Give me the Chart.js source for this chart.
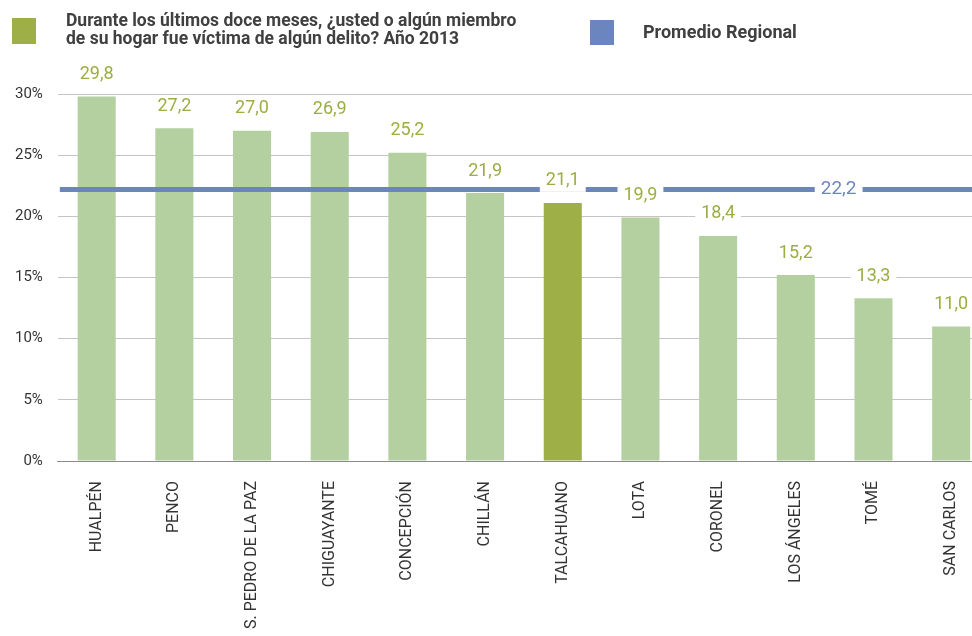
<!DOCTYPE html>
<html>
<head>
<meta charset="utf-8">
<script src="https://cdn.jsdelivr.net/npm/chart.js@4.4.0/dist/chart.umd.min.js"></script>
<style>
  html, body { margin: 0; padding: 0; background: #fff; overflow: hidden; width: 972px; height: 636px; }
  #wrap { position: absolute; left: 0; top: 0; width: 1000px; height: 649px; }
  .legend { position: absolute; font-family: Roboto, "Liberation Sans", sans-serif; font-weight: bold; color: #404040; }
  .sq { position: absolute; }
</style>
</head>
<body>
<div id="wrap"><canvas id="myChart" width="1000" height="649"></canvas></div>
<div class="sq" style="left:12px;top:18px;width:24px;height:26px;background:#9faf48"></div>
<div class="legend" style="left:66px;top:11px;font-size:17.5px;line-height:18px;">Durante los últimos doce meses, ¿usted o algún miembro<br>de su hogar fue víctima de algún delito? Año 2013</div>
<div class="sq" style="left:590px;top:20px;width:24px;height:25px;background:#6b86bf"></div>
<div class="legend" style="left:643px;top:21px;font-size:18px;">Promedio Regional</div>
<script>
const comunas = ['HUALPÉN', 'PENCO', 'S. PEDRO DE LA PAZ', 'CHIGUAYANTE', 'CONCEPCIÓN', 'CHILLÁN',
  'TALCAHUANO', 'LOTA', 'CORONEL', 'LOS ÁNGELES', 'TOMÉ', 'SAN CARLOS'];
const victimas = [29.8, 27.2, 27.0, 26.9, 25.2, 21.9, 21.1, 19.9, 18.4, 15.2, 13.3, 11.0];
const promedioRegional = 22.2;
const destacada = 'TALCAHUANO';
const yTicks = [0, 5, 10, 15, 20, 25, 30];

const fmt = v => v.toFixed(1).replace('.', ',');

// regional average line + value labels drawn over the bars
const overlay = {
  id: 'overlay',
  afterDatasetsDraw(chart) {
    const ctx = chart.ctx;
    const area = chart.chartArea;
    const x = chart.scales.x, y = chart.scales.y;
    const yl = y.getPixelForValue(promedioRegional);
    ctx.save();
    ctx.strokeStyle = '#6b86bf';
    ctx.lineWidth = 5;
    ctx.beginPath();
    ctx.moveTo(area.left + 2, yl);
    ctx.lineTo(area.right, yl);
    ctx.stroke();

    ctx.textAlign = 'center';
    ctx.textBaseline = 'middle';
    const label = (txt, cx, cy, color, size) => {
      ctx.font = size + 'px Roboto, "Liberation Sans", sans-serif';
      const w = ctx.measureText(txt).width;
      ctx.fillStyle = '#fff';
      ctx.fillRect(cx - w / 2 - 6, cy - 11, w + 12, 22);
      ctx.fillStyle = color;
      ctx.fillText(txt, cx, cy);
    };
    const meta = chart.getDatasetMeta(0);
    meta.data.forEach((bar, i) => {
      label(fmt(victimas[i]), bar.x, bar.y - 22, '#9aae43', 18);
    });
    const lx = (x.getPixelForValue(9) + x.getPixelForValue(10)) / 2 + 4;
    label(fmt(promedioRegional), lx, yl, '#6b86bf', 19);
    ctx.restore();
  }
};

const ctx = document.getElementById('myChart').getContext('2d');
new Chart(ctx, {
  type: 'bar',
  data: {
    labels: comunas,
    datasets: [{
      data: victimas,
      backgroundColor: comunas.map(c => c === destacada ? '#9faf48' : '#b5d0a0'),
      barPercentage: 0.49,
      categoryPercentage: 1
    }]
  },
  options: {
    responsive: false,
    animation: false,
    layout: { padding: { left: 0, right: 10, top: 94, bottom: 0 } },
    plugins: { legend: { display: false }, tooltip: { enabled: false } },
    scales: {
      x: {
        grid: { display: false, drawTicks: false },
        border: { color: '#8c8c8c', width: 1 },
        ticks: {
          color: '#333',
          font: { family: 'Roboto, "Liberation Sans", sans-serif', size: 16 },
          maxRotation: 90, minRotation: 90, padding: 20, autoSkip: false
        }
      },
      y: {
        min: 0, max: 30,
        afterBuildTicks: axis => { axis.ticks = yTicks.map(v => ({ value: v })); },
        grid: { color: '#c4c4c4', drawTicks: false },
        border: { display: false },
        ticks: {
          color: '#333',
          font: { family: 'Roboto, "Liberation Sans", sans-serif', size: 15 },
          padding: 15,
          callback: v => v + '%'
        }
      }
    }
  },
  plugins: [overlay]
});
</script>
</body>
</html>
